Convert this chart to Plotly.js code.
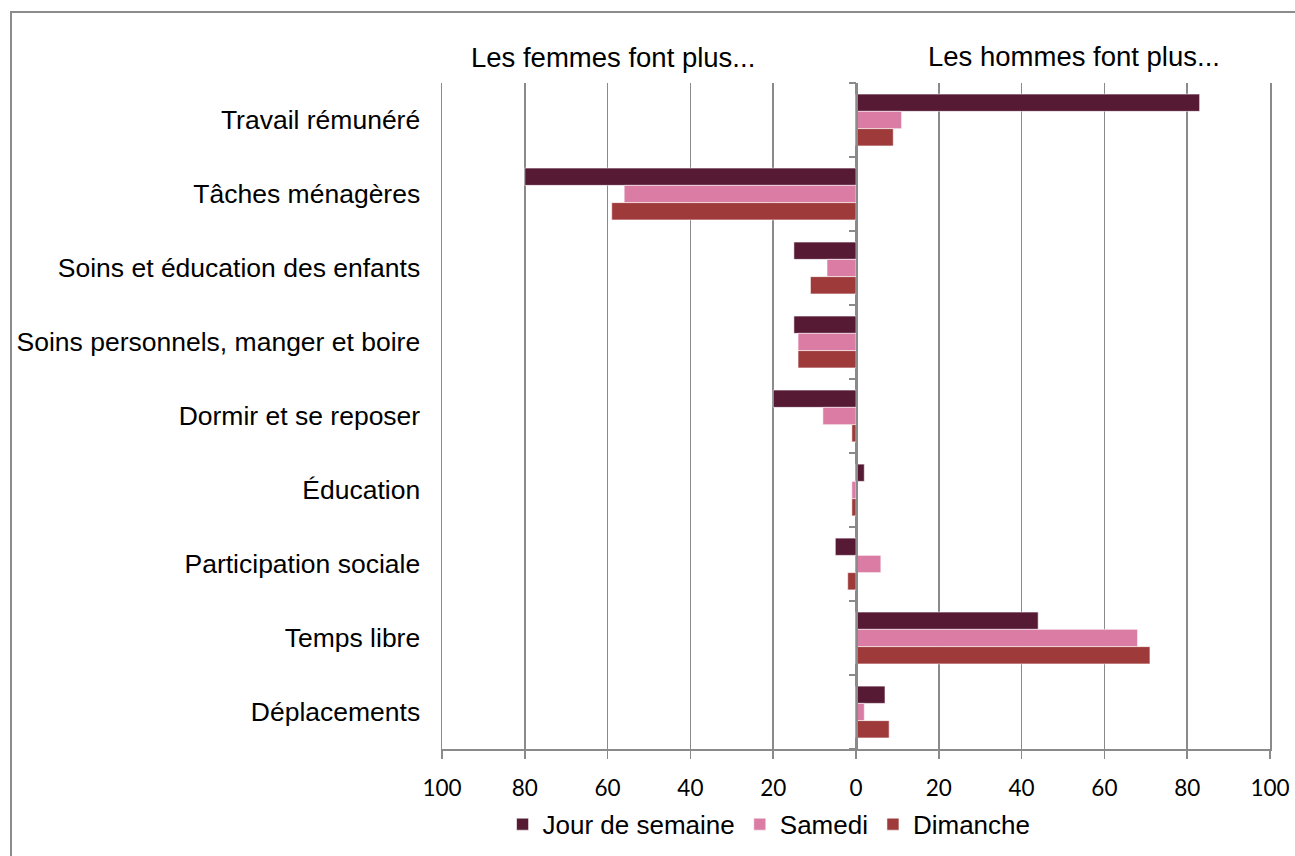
<!DOCTYPE html>
<html>
<head>
<meta charset="utf-8">
<script src="https://cdn.plot.ly/plotly-3.0.1.min.js"></script>
<style>
  html, body { margin: 0; padding: 0; background: #ffffff; }
  #wrap { position: relative; width: 1295px; height: 856px; overflow: hidden; }
  #chart { position: absolute; left: 0; top: 0; width: 1295px; height: 856px; }
  #frame { position: absolute; left: 10px; top: 11px; width: 1400px; height: 900px;
           border-top: 2px solid #8c8c8c; border-left: 2px solid #8c8c8c; pointer-events: none; }
</style>
</head>
<body>
<div id="wrap">
  <div id="chart"></div>
  <div id="frame"></div>
</div>
<script>
const categories = [
  "Travail rémunéré",
  "Tâches ménagères",
  "Soins et éducation des enfants",
  "Soins personnels, manger et boire",
  "Dormir et se reposer",
  "Éducation",
  "Participation sociale",
  "Temps libre",
  "Déplacements"
];
const jourDeSemaine = [83, -80, -15, -15, -20, 2, -5, 44, 7];
const samedi        = [11, -56, -7, -14, -8, -1, 6, 68, 2];
const dimanche      = [9, -59, -11, -14, -1, -1, -2, 71, 8];

const seriesNames = ["Jour de semaine", "Samedi", "Dimanche"];
const seriesColors = ["#561a35", "#db7ca5", "#9e3a3a"];

const xTickVals = [-100, -80, -60, -40, -20, 0, 20, 40, 60, 80, 100];
const xTickText = ["100", "80", "60", "40", "20", "0", "20", "40", "60", "80", "100"];

const headerLeft = "Les femmes font plus...";
const headerRight = "Les hommes font plus...";

const seriesValues = [jourDeSemaine, samedi, dimanche];
const traces = seriesValues.map((vals, i) => ({
  type: "bar",
  orientation: "h",
  name: seriesNames[i],
  x: vals,
  y: categories,
  marker: { color: seriesColors[i], line: { color: "rgba(255,255,255,0.55)", width: 1 } },
  hoverinfo: "x+y+name"
}));
// empty helper trace so that the centre axis (category separators) is drawn
traces.push({
  type: "scatter", mode: "markers", x: [null], y: [null],
  yaxis: "y2", showlegend: false, hoverinfo: "skip"
});

const gridColor = "#8a8a8a";
const layout = {
  width: 1295,
  height: 856,
  margin: { l: 442, r: 25, t: 83, b: 107, autoexpand: false },
  paper_bgcolor: "#ffffff",
  plot_bgcolor: "#ffffff",
  font: { family: "Liberation Sans, Arial, sans-serif", color: "#000000" },
  barmode: "group",
  bargap: 0.3,
  bargroupgap: 0,
  showlegend: true,
  legend: {
    orientation: "h",
    x: 0.395, xanchor: "center",
    y: -0.113, yanchor: "middle",
    font: { size: 26, family: "Liberation Sans, Arial, sans-serif" },
    traceorder: "normal",
    itemwidth: 30
  },
  xaxis: {
    range: [-100, 100],
    tickvals: xTickVals,
    ticktext: xTickText,
    showgrid: true,
    gridcolor: gridColor,
    gridwidth: 1.5,
    zeroline: true,
    zerolinecolor: gridColor,
    zerolinewidth: 1.5,
    showline: true,
    linecolor: gridColor,
    linewidth: 1.5,
    ticks: "outside",
    ticklen: 8,
    tickcolor: gridColor,
    tickwidth: 1.5,
    ticklabelstandoff: 10,
    automargin: false,
    tickfont: { family: "Lato, Open Sans, sans-serif", size: 22.5, color: "#000000" },
    fixedrange: true
  },
  yaxis: {
    type: "category",
    range: [8.5, -0.5],
    showgrid: false,
    zeroline: false,
    showline: true,
    mirror: true,
    linecolor: gridColor,
    linewidth: 1.5,
    ticks: "",
    ticklabelstandoff: 15,
    automargin: false,
    tickfont: { family: "Liberation Sans, Arial, sans-serif", size: 26.5, color: "#000000" },
    fixedrange: true
  },
  yaxis2: {
    overlaying: "y",
    anchor: "free",
    position: 0.5,
    side: "left",
    range: [8.5, -0.5],
    tick0: 0.5,
    dtick: 1,
    showticklabels: false,
    showgrid: false,
    zeroline: false,
    showline: true,
    linecolor: gridColor,
    linewidth: 1.5,
    ticks: "outside",
    ticklen: 7,
    tickwidth: 1.5,
    tickcolor: gridColor,
    automargin: false,
    fixedrange: true
  },
  annotations: [
    { text: headerLeft, xref: "x", yref: "paper", x: -58.7, y: 1.038, xanchor: "center", yanchor: "middle",
      showarrow: false, font: { size: 27.5, family: "Liberation Sans, Arial, sans-serif", color: "#000000" } },
    { text: headerRight, xref: "x", yref: "paper", x: 52.6, y: 1.040, xanchor: "center", yanchor: "middle",
      showarrow: false, font: { size: 27.5, family: "Liberation Sans, Arial, sans-serif", color: "#000000" } }
  ]
};

Plotly.newPlot("chart", traces, layout, { displayModeBar: false, staticPlot: true });
</script>
</body>
</html>
